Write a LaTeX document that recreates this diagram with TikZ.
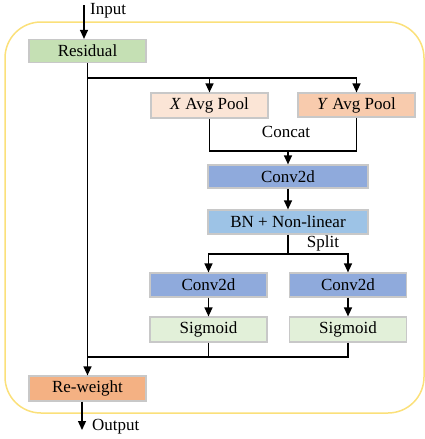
\documentclass[tikz,border=0pt]{standalone}
\usepackage{fontspec}
\setmainfont{Liberation Serif}
\usetikzlibrary{arrows.meta}
\definecolor{bordery}{HTML}{FBE07A}
\definecolor{boxline}{HTML}{C8C8C8}
\definecolor{cres}{HTML}{C5E0B4}
\definecolor{cxp}{HTML}{FBE5D6}
\definecolor{cyp}{HTML}{F8CBAD}
\definecolor{cconv}{HTML}{8FAADC}
\definecolor{cbn}{HTML}{9DC3E6}
\definecolor{csig}{HTML}{E2F0D9}
\definecolor{crw}{HTML}{F4B183}
\tikzset{
  blk/.style={rectangle, draw=boxline, line width=1.2pt, inner sep=0pt,
    minimum width=117pt, minimum height=24pt, font=\fontsize{17}{20}\selectfont},
  wide/.style={minimum width=160pt},
  conn/.style={line width=1.3pt, black},
  arr/.style={conn, -{Triangle[width=8pt,length=9pt]}},
  lbl/.style={font=\fontsize{17}{20}\selectfont, inner sep=0pt}
}
\begin{document}
\begin{tikzpicture}[x=1pt,y=-1pt]
\useasboundingbox (0,0) rectangle (425,439);
\draw[bordery, line width=1.5pt, rounded corners=36pt] (5,22) rectangle (424,413);

\node[blk, fill=cres, minimum height=23pt] (res) at (87.5,51) {Residual};
\node[blk, fill=cxp, minimum height=25pt] (xp) at (209.5,105.5) {\textit{X} Avg Pool};
\node[blk, fill=cyp] (yp) at (356.5,105) {\textit{Y} Avg Pool};
\node[blk, wide, fill=cconv, minimum height=23pt] (conv) at (288,176.5) {Conv2d};
\node[blk, wide, fill=cbn] (bn) at (288,222) {BN + Non-linear};
\node[blk, fill=cconv] (convl) at (208.5,285) {Conv2d};
\node[blk, fill=cconv] (convr) at (348,285) {Conv2d};
\node[blk, fill=csig, minimum height=25pt] (sigl) at (208.5,329.5) {Sigmoid};
\node[blk, fill=csig, minimum height=25pt] (sigr) at (348,329.5) {Sigmoid};
\node[blk, fill=crw, minimum height=25pt] (rw) at (87.5,388.5) {Re-weight};

\coordinate (in) at (84,5);
\coordinate (out) at (82,430);
\coordinate (j1) at (87.5,78);
\coordinate (cc) at (288,151);
\coordinate (sp) at (288,254);
\coordinate (j2) at (87.5,357);

\node[lbl, anchor=west] (tin) at (90,11) {Input};
\node[lbl, anchor=west] (tout) at (92,427) {Output};
\node[lbl] (tcat) at (286,132) {Concat};
\node[lbl] (tsp) at (323,243) {Split};

\draw[arr] (in) -- (in |- res.north);
\draw[arr] (res.south) -- (rw.north);
\draw[arr] (j1) -| (xp.north);
\draw[arr] (j1) -| (yp.north);
\draw[conn] (xp.south) |- (cc);
\draw[conn] (yp.south) |- (cc);
\draw[arr] (cc) -- (conv.north);
\draw[arr] (conv.south) -- (bn.north);
\draw[conn] (bn.south) -- (sp);
\draw[arr] (sp) -| (convl.north);
\draw[arr] (sp) -| (convr.north);
\draw[arr] (convl.south) -- (sigl.north);
\draw[arr] (convr.south) -- (sigr.north);
\draw[conn] (sigr.south) |- (j2);
\draw[conn] (sigl.south) -- (sigl.south |- j2);
\draw[arr] (rw.south -| out) -- (out);
\end{tikzpicture}
\end{document}
